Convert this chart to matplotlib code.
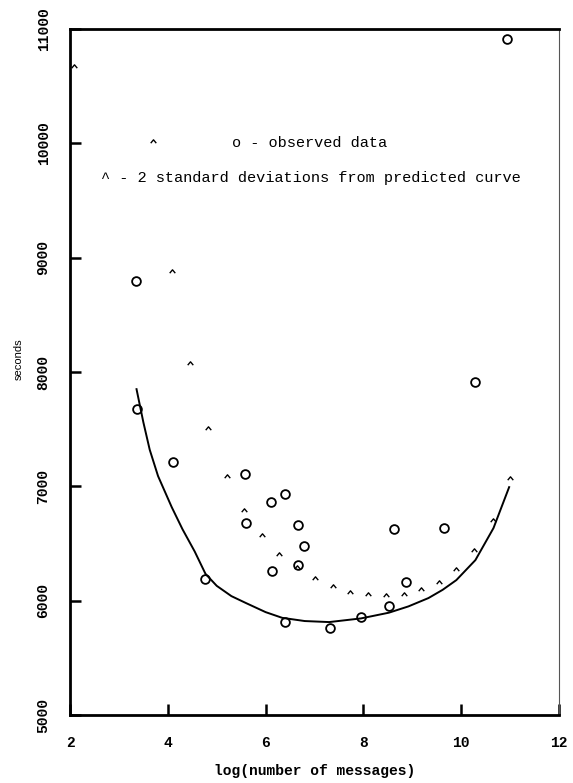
import matplotlib
matplotlib.use("Agg")
import matplotlib.pyplot as plt

# observed data (circles)
obs_x = [3.34, 3.36, 4.10, 4.77, 5.58, 5.60, 6.11, 6.13, 6.40, 6.40, 6.66,
         6.66, 6.79, 7.32, 7.95, 8.52, 8.62, 8.88, 9.64, 10.29, 10.94]
obs_y = [8794, 7675, 7211, 6189, 7107, 6678, 6862, 6259, 6932, 5813, 6661,
         6311, 6477, 5760, 5857, 5953, 6626, 6163, 6635, 7911, 10910]

# 2 standard deviations from predicted curve (carets)
sd_x = [2.08, 3.69, 4.08, 4.46, 4.83, 5.20, 5.56, 5.93, 6.28, 6.64, 7.01,
        7.38, 7.72, 8.09, 8.46, 8.82, 9.17, 9.54, 9.90, 10.27, 10.66, 11.00]
sd_y = [10673, 10017, 8881, 8077, 7509, 7089, 6792, 6573, 6407, 6294, 6198,
        6128, 6075, 6058, 6049, 6058, 6101, 6163, 6276, 6442, 6705, 7072]

# predicted curve
fit_x = [3.36, 3.50, 3.63, 3.80, 4.08, 4.30, 4.55, 4.77, 5.00, 5.30, 5.60,
         6.00, 6.34, 6.80, 7.30, 7.95, 8.52, 8.92, 9.33, 9.62, 9.90, 10.29,
         10.66, 10.98]
fit_y = [7850, 7560, 7320, 7090, 6818, 6625, 6430, 6235, 6130, 6040, 5979,
         5900, 5850, 5822, 5813, 5845, 5895, 5950, 6023, 6095, 6180, 6355,
         6635, 6993]

x_ticks = [2, 4, 6, 8, 10, 12]
y_ticks = [5000, 6000, 7000, 8000, 9000, 10000, 11000]

mono = 'Liberation Mono'

fig = plt.figure(figsize=(5.73, 7.83), dpi=100)
ax = fig.add_axes([0.1222, 0.0868, 0.8534, 0.8762])

ax.plot(fit_x, fit_y, color='black', lw=1.4)
ax.plot(obs_x, obs_y, 'o', ms=6.3, mfc='none', mec='black', mew=1.3)
caret = [(-1, -0.6), (0, 0.6), (1, -0.6)]
ax.plot(sd_x, sd_y, ls='none', marker=caret, ms=4, mfc='none',
        mec='black', mew=1.0)

ax.set_xlim(2, 12)
ax.set_ylim(5000, 11000)
ax.set_xticks(x_ticks)
ax.set_yticks(y_ticks)
ax.set_xticklabels([str(t) for t in x_ticks], family=mono, weight='bold',
                   size=10.5)
ax.set_yticklabels([str(t) for t in y_ticks], family=mono, weight='bold',
                   size=10.5, rotation=90, va='center')
ax.tick_params(direction='in', length=8, width=1.8)
ax.tick_params(axis='x', pad=15)
ax.tick_params(axis='y', pad=14)

for s in ['left', 'bottom', 'top']:
    ax.spines[s].set_linewidth(2)
ax.spines['right'].set_linewidth(0.8)
ax.spines['right'].set_color('#555555')

ax.set_xlabel('log(number of messages)', family=mono, weight='bold',
              size=10.5, labelpad=10)
ax.set_ylabel('seconds', family='Liberation Sans', size=8)
ax.yaxis.set_label_coords(-0.094, 0.519)

ax.text(0.332, 0.834, 'o - observed data', transform=ax.transAxes,
        family=mono, size=11, va='center', ha='left')
ax.text(0.0624, 0.783, '^ - 2 standard deviations from predicted curve',
        transform=ax.transAxes, family=mono, size=11, va='center', ha='left')

fig.savefig('out.png', dpi=100, facecolor='white')
